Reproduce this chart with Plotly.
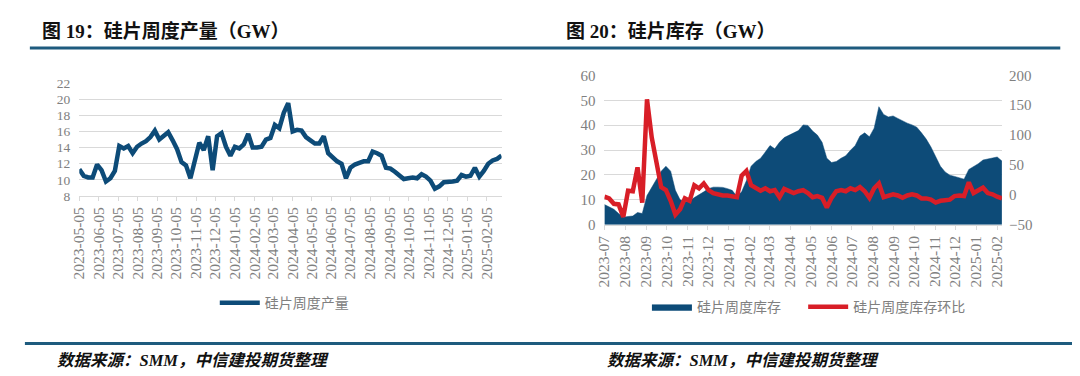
import pandas as pd
import plotly.graph_objects as go

# ---------------- data ----------------
prod_start = "2023-05-05"
prod_values = [11.3, 10.5, 10.3, 10.3, 11.9, 11.2, 9.8, 10.2, 11.1, 14.2,
               13.9, 14.2, 13.3, 14.1, 14.5, 14.8, 15.3, 16.1, 15.0, 15.5,
               15.9, 14.9, 13.8, 12.2, 11.8, 10.2, 12.7, 14.6, 13.7, 15.4,
               11.2, 15.4, 15.8, 14.1, 13.0, 14.1, 13.9, 14.4, 15.7, 14.0,
               14.0, 14.1, 15.0, 15.2, 16.8, 16.4, 18.3, 19.5, 16.0, 16.2,
               16.1, 15.3, 14.9, 14.5, 14.5, 15.4, 13.3, 12.8, 12.3, 12.0,
               10.2, 11.5, 11.9, 12.1, 12.3, 12.3, 13.5, 13.3, 13.0, 11.5,
               11.4, 11.0, 10.6, 10.1, 10.2, 10.3, 10.2, 10.7, 10.4, 9.9,
               8.9, 9.2, 9.7, 9.7, 9.8, 9.9, 10.6, 10.4, 10.5, 11.5,
               10.4, 11.1, 12.0, 12.4, 12.6, 13.0]
prod_dates = pd.date_range(prod_start, periods=len(prod_values), freq="7D")

inv_start = "2023-07-01"
inv_values = [8.1, 7.2, 6.2, 4.5, 3.0, 3.3, 3.5, 4.9, 4.5, 11.7,
              15.1, 18.3, 21.5, 23.5, 21.5, 13.8, 10.0, 9.1, 9.6, 10.9,
              11.9, 13.2, 14.5, 15.1, 15.1, 15.0, 14.5, 13.8, 11.3, 13.2,
              17.7, 23.5, 25.4, 26.7, 29.2, 31.8, 30.5, 33.1, 35.0, 36.0,
              36.9, 37.8, 40.1, 39.9, 37.6, 36.0, 33.1, 26.7, 25.0, 25.4,
              26.7, 27.7, 29.9, 31.8, 35.6, 36.9, 35.3, 38.8, 47.4, 44.3,
              43.3, 43.7, 42.7, 41.7, 40.8, 40.1, 39.2, 36.9, 34.4, 31.2,
              27.3, 23.5, 21.2, 19.9, 19.4, 19.0, 18.3, 22.2, 23.2, 24.5,
              26.0, 26.4, 26.7, 27.2, 25.6]
inv_chg = [-3, -6, -15, -16, -37, 7, 6, 46, -13, 160,
           96, 59, 13, 8, -10, -33, -24, -6, -10, 16,
           11, 19, 8, 3, 1, -1, -1, -2, -4, 32,
           40, 16, 11, 7, 11, 6, 8, -4, 10, 6,
           3, 6, 8, 3, -4, -2, -5, -21, -5, 6,
           8, 6, 11, 8, 13, 6, -5, 11, 19, -4,
           -1, 1, -1, -5, -1, 1, -1, -6, -6, -8,
           -13, -10, -9, -8, -2, -1, -2, 21, 3, 8,
           12, 3, 1, -3, -6]
inv_dates = pd.date_range(inv_start, periods=len(inv_values), freq="7D")

title_left = "图 19：硅片周度产量（GW）"
title_right = "图 20：硅片库存（GW）"
source_text = "数据来源：SMM，中信建投期货整理"
name_prod = "硅片周度产量"
name_inv = "硅片周度库存"
name_chg = "硅片周度库存环比"

# ---------------- style ----------------
W, H = 1080, 376
BLUE = "#0D4B78"
RED = "#D81E27"
GRID = "#D9D9D9"
TICKC = "#808080"
RULE = "#1E5B7E"
FONT = "Liberation Serif, Noto Sans CJK SC, serif"


def px_x(p):
    return p / W


def px_y(p):
    return 1 - p / H


fig = go.Figure()

fig.add_trace(go.Scatter(
    x=prod_dates, y=prod_values, mode="lines", name=name_prod,
    line=dict(color=BLUE, width=4.5), xaxis="x", yaxis="y", legend="legend"))

fig.add_trace(go.Scatter(
    x=inv_dates, y=inv_values, mode="lines", name=name_inv, fill="tozeroy",
    fillcolor=BLUE, line=dict(color=BLUE, width=0.5),
    xaxis="x2", yaxis="y2", legend="legend2"))

fig.add_trace(go.Scatter(
    x=inv_dates, y=inv_chg, mode="lines", name=name_chg,
    line=dict(color=RED, width=4.5), xaxis="x2", yaxis="y3", legend="legend3"))

xtickfont = dict(family=FONT, size=15.5, color=TICKC)
legfont = dict(family=FONT, size=14, color=TICKC)

fig.update_layout(
    width=W, height=H,
    margin=dict(l=0, r=0, t=0, b=0),
    paper_bgcolor="white", plot_bgcolor="white",
    font=dict(family=FONT),
    xaxis=dict(domain=[px_x(63), px_x(490)], type="date",
               range=[prod_dates[0], prod_dates[-1]],
               tick0=prod_start, dtick="M1", tickformat="%Y-%m-%d",
               tickangle=-90, tickfont=xtickfont, showgrid=False,
               showline=True, linecolor=GRID, linewidth=1,
               ticks="outside", ticklen=4, tickcolor=GRID,
               anchor="y", zeroline=False),
    yaxis=dict(domain=[px_y(188), px_y(70)], range=[8, 22], dtick=2,
               tickfont=dict(family=FONT, size=13.5, color=TICKC),
               gridcolor=GRID, gridwidth=1, zeroline=False,
               showline=False, ticks="", ticklabelstandoff=8,
               anchor="x"),
    xaxis2=dict(domain=[px_x(594), px_x(996)], type="date",
                range=[inv_dates[0], inv_dates[-1]],
                tick0="2023-07-01", dtick="M1", tickformat="%Y-%m",
                tickangle=-90, tickfont=xtickfont, showgrid=False,
                showline=True, linecolor=GRID, linewidth=1,
                ticks="outside", ticklen=4, tickcolor=GRID,
                anchor="y2", zeroline=False),
    yaxis2=dict(domain=[px_y(218), px_y(62)], range=[0, 60], dtick=10,
                tickfont=dict(family=FONT, size=15, color=TICKC),
                gridcolor=GRID, gridwidth=1,
                zeroline=False, showline=False, ticks="",
                ticklabelstandoff=8, anchor="x2"),
    yaxis3=dict(range=[-50, 200], dtick=50, overlaying="y2", side="right",
                anchor="x2", tickfont=dict(family=FONT, size=15, color=TICKC),
                showgrid=False, zeroline=False, showline=False, ticks="",
                ticklabelstandoff=6),
    legend=dict(x=px_x(200), y=px_y(300), xanchor="left", yanchor="middle",
                orientation="h", font=legfont,
                bgcolor="rgba(0,0,0,0)", itemwidth=40),
    legend2=dict(x=px_x(637), y=px_y(304), xanchor="left", yanchor="middle",
                 orientation="h", font=legfont,
                 bgcolor="rgba(0,0,0,0)", itemwidth=40),
    legend3=dict(x=px_x(795), y=px_y(304), xanchor="left", yanchor="middle",
                 orientation="h", font=legfont,
                 bgcolor="rgba(0,0,0,0)", itemwidth=40),
    showlegend=True,
)

# titles
fig.add_annotation(text=f"<b>{title_left}</b>", xref="paper", yref="paper",
                   x=px_x(23), y=px_y(16), xanchor="left", yanchor="middle",
                   showarrow=False, font=dict(family=FONT, size=19, color="#111111"))
fig.add_annotation(text=f"<b>{title_right}</b>", xref="paper", yref="paper",
                   x=px_x(553), y=px_y(16), xanchor="left", yanchor="middle",
                   showarrow=False, font=dict(family=FONT, size=19, color="#111111"))

# source notes
for xp in (38, 595):
    fig.add_annotation(text=f"<b><i>{source_text}</i></b>", xref="paper", yref="paper",
                       x=px_x(xp), y=px_y(360), xanchor="left", yanchor="middle",
                       showarrow=False, font=dict(family=FONT, size=16.5, color="#111111"))

# rules
fig.add_shape(type="line", xref="paper", yref="paper",
              x0=px_x(13), x1=px_x(1055), y0=px_y(33.5), y1=px_y(33.5),
              line=dict(color=RULE, width=3))
fig.add_shape(type="line", xref="paper", yref="paper",
              x0=px_x(8), x1=px_x(1076), y0=px_y(342), y1=px_y(342),
              line=dict(color=RULE, width=3))

fig.write_html("out.html")
